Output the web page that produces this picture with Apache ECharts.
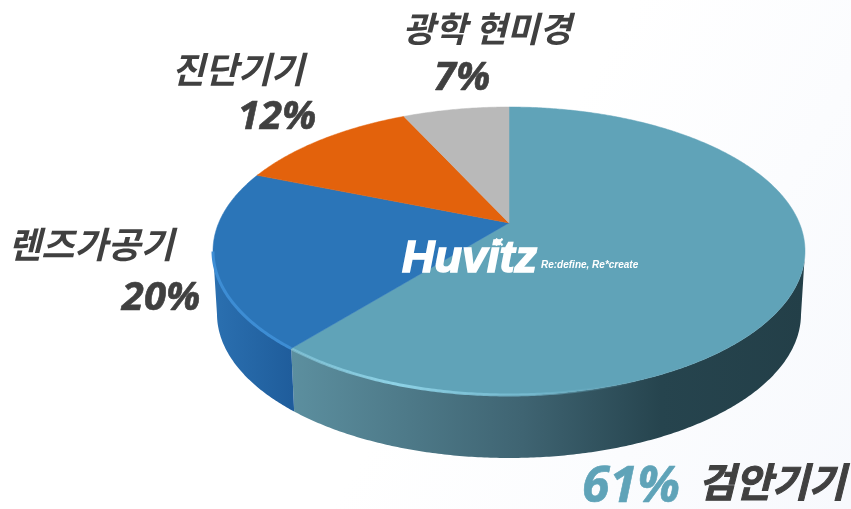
<!DOCTYPE html>
<html><head><meta charset="utf-8">
<style>html,body{margin:0;padding:0;background:#fff}#c{width:851px;height:509px}</style>
<script src="https://cdn.jsdelivr.net/npm/echarts@6/dist/echarts.min.js"></script>
</head><body><div id="c"></div>
<script>
const categories = ['검안기기','렌즈가공기','진단기기','광학 현미경'];
const values = [61,20,12,7];
const topColors = ['#60a3b8','#2b75b8','#e3620c','#b9b9b9'];
const sideStops = [
  [[0,'#5c8f9f'],[0.45,'#3f6472'],[0.72,'#26444e'],[1,'#233f48']],
  [[0,'#2b70b0'],[1,'#1f5d9c']],
  [[0,'#b04a08'],[1,'#b04a08']],
  [[0,'#8c8c8c'],[1,'#8c8c8c']]
];
const rimColors = [['#8ed2e6','#60a3b8'],['#3d8dd4','#3d8dd4'],['#e3620c','#e3620c'],['#b9b9b9','#b9b9b9']];

// pie geometry: tilted disc seen in perspective
const CX=509, CY=251, RX=296, RY=144, TILT=0.195, DEPTH=63, RXB=292;
const total = values.reduce((a,b)=>a+b,0);
function project(deg){
  const r=deg*Math.PI/180, u=Math.sin(r), v=Math.cos(r), w=1+TILT*v;
  return {X:Math.sqrt(1-TILT*TILT)*u/w, Y:(v+TILT)/w};
}
const top_=p=>[CX+RX*p.X, CY-RY*p.Y];
const bot_=p=>[CX+RXB*p.X, CY+DEPTH-RY*p.Y];
function range(i){
  let s=0; for(let k=0;k<i;k++) s+=values[k];
  return [s/total*360,(s+values[i])/total*360];
}
function arc(i){
  const [a,b]=range(i), out=[];
  for(let d=a;d<b;d+=0.5) out.push(project(d));
  out.push(project(b));
  return out;
}
const Apex=[CX,CY-RY*TILT];

function renderSide(params,api){
  const i=params.dataIndex, vis=arc(i).filter(p=>p.Y<=0);
  if(vis.length<2) return {type:'group',children:[]};
  const t=vis.map(top_), b=vis.map(bot_).reverse();
  const xs=t.map(p=>p[0]);
  const x0=Math.min(...xs), x1=Math.max(...xs);
  return {type:'group',children:[
    {type:'polygon',shape:{points:t.concat(b)},
     style:{fill:new echarts.graphic.LinearGradient(x0,0,x1,0,sideStops[i].map(s=>({offset:s[0],color:s[1]})),true)}}
  ]};
}
function renderTop(params,api){
  const i=params.dataIndex, pts=arc(i).map(top_);
  const vis=arc(i).filter(p=>p.Y<=0).map(top_);
  const children=[{type:'polygon',shape:{points:[Apex].concat(pts)},
    style:{fill:topColors[i],stroke:topColors[i],lineWidth:0.5}}];
  if(i<2 && vis.length>1){
    const vv=i===0?vis.filter(p=>p[0]<640):vis;
    const x1=Math.max(...vv.map(p=>p[0])), x0=Math.min(...vv.map(p=>p[0]));
    children.push({type:'polyline',shape:{points:vv},
      style:{fill:null,lineWidth:3,
        stroke:new echarts.graphic.LinearGradient(x0,0,x1,0,i===0
          ?[{offset:0,color:'rgba(142,210,230,0.5)'},{offset:0.3,color:'rgba(142,210,230,1)'},{offset:0.7,color:'rgba(120,190,212,0.7)'},{offset:1,color:'rgba(96,163,184,0)'}]
          :[{offset:0,color:rimColors[i][1]},{offset:1,color:rimColors[i][0]}],true)}});
  }
  return {type:'group',children};
}
const seriesData=values.map((v,i)=>({name:categories[i],value:v}));

const KO='"Noto Sans CJK KR","Noto Sans",sans-serif', PCT='"Open Sans","Liberation Sans",sans-serif', LOGO='"Liberation Sans",sans-serif';
const ink='#404040';
function label(text,x,y,size,fill,family,align,sw){
  return {type:'text',z:100,x,y,style:{text,fontFamily:family,fontSize:size,fontWeight:'bold',fontStyle:'italic',fill,align:align||'center',verticalAlign:'middle',stroke:sw?fill:null,lineWidth:sw||0}};
}
const pct=i=>values[i]+'%';
const chart=echarts.init(document.getElementById('c'),null,{renderer:'canvas'});
chart.setOption({
  animation:false,
  backgroundColor:new echarts.graphic.LinearGradient(0,0,1,1,[{offset:0,color:'#ffffff'},{offset:0.55,color:'#ffffff'},{offset:1,color:'#f7f9fd'}]),
  series:[
    {type:'custom',coordinateSystem:'none',renderItem:renderSide,data:seriesData,silent:true,z:1},
    {type:'custom',coordinateSystem:'none',renderItem:renderTop,data:seriesData,silent:true,z:2}
  ],
  graphic:[
    label(categories[3],487,29,35,ink,KO),
    label(pct(3),462,79,40,ink,PCT,'center',0.6),
    label(categories[2],238,69,36,ink,KO),
    label(pct(2),277,118,40,ink,PCT,'center',0.6),
    label(categories[1],91,244,36,ink,KO),
    label(pct(1),161,299,40,ink,PCT,'center',0.6),
    label(pct(0),631,488,50,'#5fa3b8',PCT,'center',0.6),
    label(categories[0],772,482,40,ink,KO,'center',1),
    label('Huvitz',402,260,45,'#ffffff',LOGO,'left',1.6),
    label('×',499,243,15,'#ffffff',LOGO,'center',0.4),
    label('Re:define, Re*create',541,265,10,'#ffffff',LOGO,'left')
  ]
});
</script></body></html>
